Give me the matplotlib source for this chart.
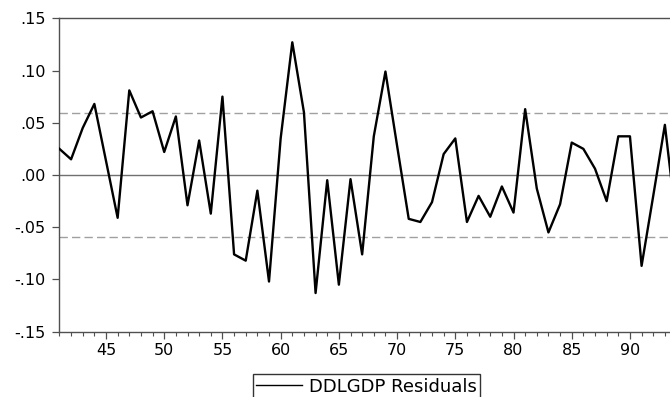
import matplotlib
matplotlib.use('Agg')
import matplotlib.pyplot as plt
from matplotlib.ticker import MultipleLocator, FuncFormatter

plt.rcParams['font.family'] = ['DejaVu Sans']

years = list(range(41, 95))
resid = [0.025, 0.015, 0.045, 0.068, 0.0135, -0.041, 0.081, 0.055, 0.061, 0.022,
         0.056, -0.029, 0.033, -0.037, 0.075, -0.076, -0.082, -0.015, -0.102, 0.035,
         0.127, 0.060, -0.113, -0.005, -0.105, -0.004, -0.076, 0.037, 0.099, 0.028,
         -0.042, -0.045, -0.026, 0.020, 0.035, -0.045, -0.020, -0.040, -0.011, -0.036,
         0.063, -0.013, -0.055, -0.028, 0.031, 0.025, 0.006, -0.025, 0.037, 0.037,
         -0.087, -0.020, 0.048, -0.047]
band = 0.059
label = 'DDLGDP Residuals'


def fmt(v, pos):
    s = '%.2f' % v
    return s.replace('0.', '.', 1)


def main():
    fig = plt.figure(figsize=(6.7, 3.97), dpi=100)
    ax = fig.add_axes([0.0887, 0.1645, 0.9113, 0.7895])

    ax.axhline(0, color='#707070', lw=1.0, zorder=1)
    ax.axhline(band, color='#a0a0a0', lw=1.0, ls=(0, (6, 3)), zorder=1)
    ax.axhline(-band, color='#a0a0a0', lw=1.0, ls=(0, (6, 3)), zorder=1)
    line, = ax.plot(years, resid, color='black', lw=1.7, zorder=3)

    ax.set_xlim(41, 93.44)
    ax.set_ylim(-0.15, 0.15)
    ax.xaxis.set_major_locator(MultipleLocator(5))
    ax.xaxis.set_minor_locator(MultipleLocator(1))
    ax.yaxis.set_major_locator(MultipleLocator(0.05))
    ax.yaxis.set_major_formatter(FuncFormatter(fmt))

    for s in ['left', 'top', 'bottom']:
        ax.spines[s].set_color('#505050')
        ax.spines[s].set_linewidth(1.0)
    ax.spines['right'].set_visible(False)

    ax.tick_params(axis='both', which='major', direction='out', length=5,
                   width=0.9, color='#505050', labelsize=11.5)
    ax.tick_params(axis='x', which='minor', direction='out', length=3,
                   width=0.8, color='#505050')
    ax.tick_params(axis='x', pad=3)
    ax.tick_params(axis='y', pad=5)

    leg = fig.legend([line], [label], loc='upper center',
                     bbox_to_anchor=(0.547, 0.058), borderaxespad=0,
                     frameon=True, fancybox=False, edgecolor='black',
                     fontsize=13, handlelength=2.5, borderpad=0.2,
                     handletextpad=0.4)
    leg.get_frame().set_linewidth(1.0)
    leg.get_lines()[0].set_linewidth(1.0)

    plt.savefig('out.png', dpi=100)


if __name__ == '__main__':
    main()
